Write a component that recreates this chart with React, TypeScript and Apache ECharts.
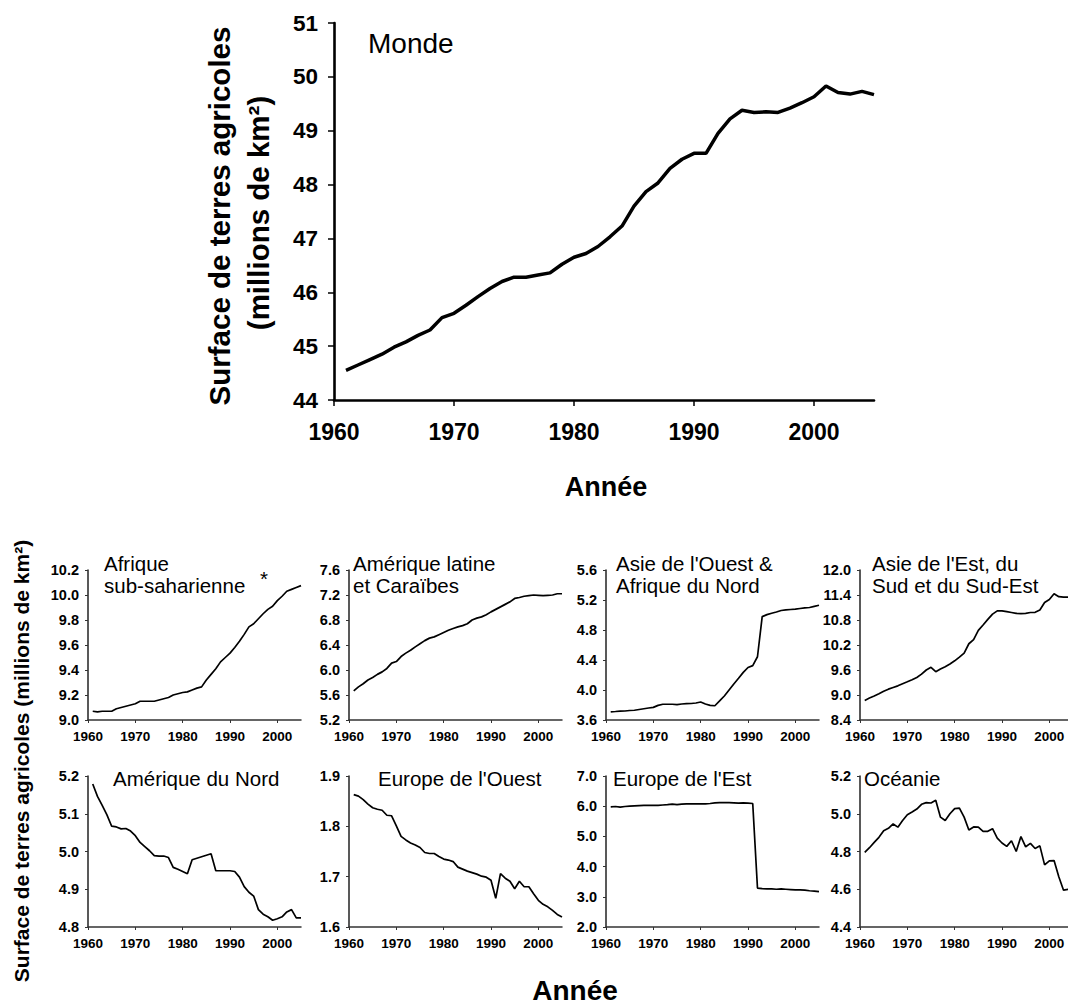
import { useEffect, useRef } from "react";
import * as echarts from "echarts";

const FONT = '"Liberation Sans", Arial, Helvetica, sans-serif';

const years = [
  1961, 1962, 1963, 1964, 1965, 1966, 1967, 1968, 1969, 1970,
  1971, 1972, 1973, 1974, 1975, 1976, 1977, 1978, 1979, 1980,
  1981, 1982, 1983, 1984, 1985, 1986, 1987, 1988, 1989, 1990,
  1991, 1992, 1993, 1994, 1995, 1996, 1997, 1998, 1999, 2000,
  2001, 2002, 2003, 2004, 2005,
];

const decadeTicks = [1960, 1970, 1980, 1990, 2000];

const monde = [
  44.55, 44.65, 44.75, 44.85, 44.98, 45.08, 45.2, 45.3, 45.53, 45.61,
  45.76, 45.92, 46.07, 46.2, 46.28, 46.28, 46.32, 46.36, 46.52, 46.65,
  46.72, 46.85, 47.03, 47.23, 47.6, 47.87, 48.03, 48.3, 48.47, 48.58,
  48.58, 48.95, 49.22, 49.38, 49.34, 49.35, 49.34, 49.42, 49.52, 49.63,
  49.83, 49.71, 49.68, 49.73, 49.67,
];

const afriqueSub = [
  9.07, 9.065, 9.07, 9.07, 9.07, 9.09, 9.1, 9.11, 9.12, 9.13,
  9.15, 9.15, 9.15, 9.15, 9.16, 9.17, 9.18, 9.2, 9.21, 9.22,
  9.225, 9.24, 9.255, 9.265, 9.32, 9.365, 9.41, 9.465, 9.5, 9.535,
  9.58, 9.63, 9.685, 9.745, 9.77, 9.81, 9.85, 9.885, 9.91, 9.955,
  9.99, 10.03, 10.045, 10.06, 10.075,
];

const ameriqueLatine = [
  5.665, 5.73, 5.78, 5.84, 5.88, 5.93, 5.97, 6.025, 6.11, 6.135,
  6.215, 6.27, 6.315, 6.37, 6.42, 6.47, 6.51, 6.53, 6.565, 6.6,
  6.635, 6.665, 6.69, 6.71, 6.74, 6.8, 6.83, 6.85, 6.885, 6.93,
  6.97, 7.01, 7.05, 7.09, 7.145, 7.16, 7.18, 7.19, 7.2, 7.195,
  7.19, 7.195, 7.2, 7.22, 7.22,
];

const asieOuest = [
  3.709, 3.713, 3.718, 3.72, 3.727, 3.73, 3.74, 3.75, 3.76, 3.768,
  3.795, 3.81, 3.81, 3.81, 3.805, 3.813, 3.818, 3.82, 3.827, 3.84,
  3.813, 3.795, 3.79, 3.854, 3.92, 4.0, 4.08, 4.157, 4.235, 4.3,
  4.325, 4.443, 4.978, 5.005, 5.023, 5.04, 5.06, 5.068, 5.073, 5.078,
  5.087, 5.096, 5.1, 5.115, 5.13,
];

const asieEst = [
  8.87, 8.927, 8.976, 9.03, 9.09, 9.14, 9.18, 9.22, 9.27, 9.316,
  9.365, 9.42, 9.5, 9.6, 9.665, 9.56, 9.625, 9.68, 9.746, 9.82,
  9.91, 10.005, 10.23, 10.33, 10.55, 10.68, 10.815, 10.94, 11.02, 11.02,
  11.0, 10.98, 10.96, 10.955, 10.96, 10.98, 10.985, 11.04, 11.22, 11.29,
  11.43, 11.36, 11.35, 11.35, 11.35,
];

const ameriqueNord = [
  5.179, 5.146, 5.122, 5.097, 5.067, 5.065, 5.06, 5.061, 5.054, 5.042,
  5.024, 5.013, 5.002, 4.989, 4.988, 4.988, 4.984, 4.958, 4.953, 4.947,
  4.941, 4.978, 4.982, 4.986, 4.99, 4.994, 4.949, 4.949, 4.949, 4.949,
  4.947, 4.932, 4.907, 4.892, 4.882, 4.846, 4.834, 4.827, 4.818, 4.822,
  4.827, 4.84, 4.846, 4.824, 4.824,
];

const europeOuest = [
  1.863, 1.86, 1.853, 1.844, 1.837, 1.834, 1.832, 1.822, 1.821, 1.801,
  1.78, 1.773, 1.767, 1.763, 1.758, 1.748, 1.746, 1.746, 1.74, 1.735,
  1.733, 1.73, 1.719, 1.715, 1.711, 1.708, 1.705, 1.701, 1.699, 1.693,
  1.657, 1.706, 1.697, 1.691, 1.676, 1.691, 1.68, 1.68, 1.666, 1.653,
  1.645, 1.64, 1.633, 1.625, 1.62,
];

const europeEst = [
  5.98, 5.99, 5.97, 5.99, 6.0, 6.01, 6.02, 6.03, 6.03, 6.03,
  6.03, 6.04, 6.05, 6.07, 6.05, 6.07, 6.08, 6.08, 6.08, 6.08,
  6.08, 6.09, 6.11, 6.12, 6.12, 6.12, 6.11, 6.1, 6.11, 6.1,
  6.09, 3.29, 3.27, 3.26, 3.26, 3.25, 3.26, 3.25, 3.24, 3.23,
  3.23, 3.22, 3.2, 3.19, 3.17,
];

const oceanie = [
  4.795, 4.82, 4.848, 4.875, 4.91, 4.923, 4.946, 4.929, 4.964, 4.995,
  5.009, 5.025, 5.05, 5.059, 5.057, 5.071, 4.982, 4.964, 5.0, 5.027,
  5.03, 4.982, 4.914, 4.93, 4.929, 4.907, 4.907, 4.921, 4.871, 4.845,
  4.827, 4.857, 4.8, 4.879, 4.825, 4.843, 4.816, 4.83, 4.729, 4.75,
  4.752, 4.666, 4.595, 4.6, 4.6,
];

type Panel = {
  lines: string[];
  values: number[];
  min: number;
  max: number;
  interval: number;
  left: number;
  top: number;
  height: number;
  titleX: number;
  titleY: number;
};

const COLS = [88, 349, 606, 860];
const PANEL_W = 213;
const ROW1_TOP = 570;
const ROW1_H = 150;
const ROW2_TOP = 776;
const ROW2_H = 151;

const panels: Panel[] = [
  { lines: ["Afrique", "sub-saharienne"], values: afriqueSub, min: 9.0, max: 10.2, interval: 0.2, left: COLS[0], top: ROW1_TOP, height: ROW1_H, titleX: 104, titleY: 563 },
  { lines: ["Amérique latine", "et Caraïbes"], values: ameriqueLatine, min: 5.2, max: 7.6, interval: 0.4, left: COLS[1], top: ROW1_TOP, height: ROW1_H, titleX: 353, titleY: 563 },
  { lines: ["Asie de l'Ouest &", "Afrique du Nord"], values: asieOuest, min: 3.6, max: 5.6, interval: 0.4, left: COLS[2], top: ROW1_TOP, height: ROW1_H, titleX: 616, titleY: 563 },
  { lines: ["Asie de l'Est, du", "Sud et du Sud-Est"], values: asieEst, min: 8.4, max: 12.0, interval: 0.6, left: COLS[3], top: ROW1_TOP, height: ROW1_H, titleX: 872, titleY: 563 },
  { lines: ["Amérique du Nord"], values: ameriqueNord, min: 4.8, max: 5.2, interval: 0.1, left: COLS[0], top: ROW2_TOP, height: ROW2_H, titleX: 113, titleY: 778 },
  { lines: ["Europe de l'Ouest"], values: europeOuest, min: 1.6, max: 1.9, interval: 0.1, left: COLS[1], top: ROW2_TOP, height: ROW2_H, titleX: 378, titleY: 778 },
  { lines: ["Europe de l'Est"], values: europeEst, min: 2.0, max: 7.0, interval: 1.0, left: COLS[2], top: ROW2_TOP, height: ROW2_H, titleX: 613, titleY: 778 },
  { lines: ["Océanie"], values: oceanie, min: 4.4, max: 5.2, interval: 0.2, left: COLS[3], top: ROW2_TOP, height: ROW2_H, titleX: 864, titleY: 778 },
];

function zip(vals: number[]) {
  return years.map((y, i) => [y, vals[i]]);
}

const yearFmt = (v: number) => String(Math.round(v));

function buildOption() {
  const grids: any[] = [];
  const xAxes: any[] = [];
  const yAxes: any[] = [];
  const series: any[] = [];
  const graphics: any[] = [];

  // Main chart (Monde)
  grids.push({ left: 334, top: 23, width: 540, height: 377, containLabel: false });
  xAxes.push({
    gridIndex: 0,
    type: "value",
    min: 1960,
    max: 2005,
    axisLine: { show: true, onZero: false, lineStyle: { color: "#000", width: 2.6 } },
    axisTick: { show: true, length: 6, customValues: decadeTicks, lineStyle: { color: "#000", width: 1.5 } },
    axisLabel: { customValues: decadeTicks, formatter: yearFmt, color: "#000", fontFamily: FONT, fontWeight: "bold", fontSize: 23, margin: 20 },
    splitLine: { show: false },
  });
  yAxes.push({
    gridIndex: 0,
    type: "value",
    min: 44,
    max: 51,
    interval: 1,
    axisLine: { show: true, onZero: false, lineStyle: { color: "#000", width: 2.6 } },
    axisTick: { show: true, length: 6, lineStyle: { color: "#000", width: 1.5 } },
    axisLabel: { color: "#000", fontFamily: FONT, fontWeight: "bold", fontSize: 22.5, margin: 16 },
    splitLine: { show: false },
  });
  series.push({
    type: "line",
    xAxisIndex: 0,
    yAxisIndex: 0,
    data: zip(monde),
    showSymbol: false,
    lineStyle: { color: "#000", width: 3.5 },
    silent: true,
  });
  graphics.push({
    type: "text",
    x: 368,
    y: 43,
    style: { text: "Monde", fill: "#000", font: `28px ${FONT}`, align: "left", verticalAlign: "middle" },
  });
  graphics.push({
    type: "text",
    x: 219,
    y: 216,
    rotation: Math.PI / 2,
    style: { text: "Surface de terres agricoles", fill: "#000", font: `bold 29.5px ${FONT}`, align: "center", verticalAlign: "middle" },
  });
  graphics.push({
    type: "text",
    x: 258,
    y: 213,
    rotation: Math.PI / 2,
    style: { text: "(millions de km²)", fill: "#000", font: `bold 29.5px ${FONT}`, align: "center", verticalAlign: "middle" },
  });
  graphics.push({
    type: "text",
    x: 606,
    y: 487,
    style: { text: "Année", fill: "#000", font: `bold 27px ${FONT}`, align: "center", verticalAlign: "middle" },
  });

  panels.forEach((p, k) => {
    const gi = k + 1;
    grids.push({ left: p.left, top: p.top, width: PANEL_W, height: p.height });
    xAxes.push({
      gridIndex: gi,
      type: "value",
      min: 1960,
      max: 2005,
      axisLine: { show: true, onZero: false, lineStyle: { color: "#333", width: 1.5 } },
      axisTick: { show: true, length: 3, customValues: decadeTicks, lineStyle: { color: "#333", width: 1 } },
      axisLabel: { customValues: decadeTicks, formatter: yearFmt, color: "#000", fontFamily: FONT, fontWeight: "bold", fontSize: 13.5, margin: 9 },
      splitLine: { show: false },
    });
    yAxes.push({
      gridIndex: gi,
      type: "value",
      min: p.min,
      max: p.max,
      interval: p.interval,
      axisLine: { show: true, onZero: false, lineStyle: { color: "#222", width: 1.5 } },
      axisTick: { show: true, length: 3, lineStyle: { color: "#333", width: 1 } },
      axisLabel: {
        color: "#000",
        fontFamily: FONT,
        fontWeight: "bold",
        fontSize: 14.5,
        margin: 9,
        formatter: (v: number) => v.toFixed(1),
      },
      splitLine: { show: false },
    });
    series.push({
      type: "line",
      xAxisIndex: gi,
      yAxisIndex: gi,
      data: zip(p.values),
      showSymbol: false,
      lineStyle: { color: "#000", width: 1.7 },
      silent: true,
    });
    p.lines.forEach((line, li) => {
      graphics.push({
        type: "text",
        x: p.titleX,
        y: p.titleY + li * 22,
        style: { text: line, fill: "#000", font: `20.5px ${FONT}`, align: "left", verticalAlign: "middle" },
      });
    });
  });

  graphics.push({
    type: "text",
    x: 260,
    y: 578,
    style: { text: "*", fill: "#000", font: `20.5px ${FONT}`, align: "left", verticalAlign: "middle" },
  });
  graphics.push({
    type: "text",
    x: 21,
    y: 761,
    rotation: Math.PI / 2,
    style: { text: "Surface de terres agricoles (millions de km²)", fill: "#000", font: `bold 21px ${FONT}`, align: "center", verticalAlign: "middle" },
  });
  graphics.push({
    type: "text",
    x: 575,
    y: 990,
    style: { text: "Année", fill: "#000", font: `bold 28px ${FONT}`, align: "center", verticalAlign: "middle" },
  });

  return {
    animation: false,
    backgroundColor: "#fff",
    textStyle: { fontFamily: FONT },
    grid: grids,
    xAxis: xAxes,
    yAxis: yAxes,
    series,
    graphic: graphics,
  };
}

export default function App() {
  const ref = useRef<HTMLDivElement>(null);
  useEffect(() => {
    if (!ref.current) return;
    const chart = echarts.init(ref.current, undefined, { renderer: "svg" });
    chart.setOption(buildOption() as any);
    return () => chart.dispose();
  }, []);
  return (
    <div style={{ position: "fixed", left: 0, top: 0, width: 1068, height: 1005, overflow: "hidden", background: "#fff" }}>
      <div ref={ref} style={{ width: 1080, height: 1005 }} />
    </div>
  );
}
